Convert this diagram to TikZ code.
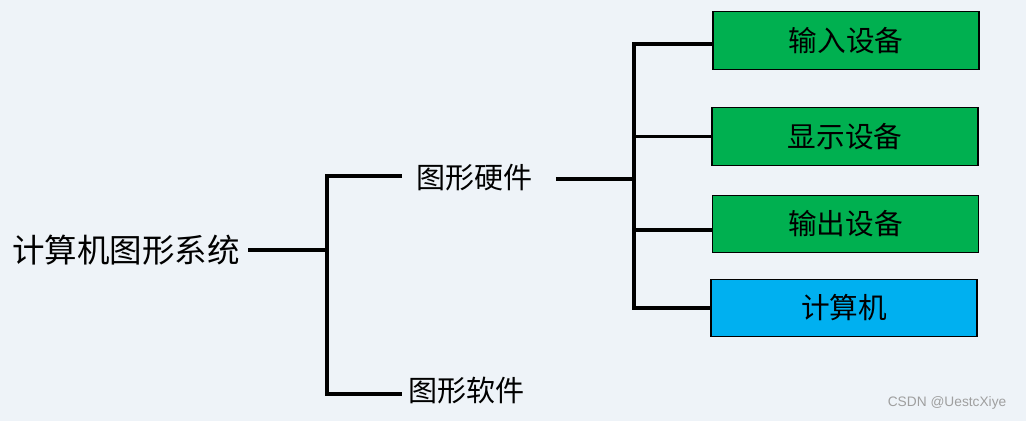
\documentclass[tikz,border=0pt]{standalone}
\usepackage{fontspec}
\setmainfont{Liberation Sans}
\newfontfamily\cjk{Noto Sans CJK SC}
\usetikzlibrary{positioning,calc}
\definecolor{bgtint}{HTML}{EEF3F8}
\definecolor{boxgreen}{HTML}{00B050}
\definecolor{boxblue}{HTML}{00B0F0}

\begin{document}
\begin{tikzpicture}[x=0.75pt, y=-0.75pt,
  tree/.style={line width=2.3pt, line join=miter},
  lbl/.style={inner sep=0pt, font=\cjk\fontsize{21.8pt}{24pt}\selectfont},
  dev/.style={draw=black, line width=0.8pt, minimum width=199.5pt, minimum height=43pt, inner sep=0pt, font=\cjk\fontsize{21.5pt}{24pt}\selectfont}]
\fill[bgtint] (0,0) rectangle (1026,421);
\useasboundingbox (0,0) rectangle (1026,421);
% left part
\node[lbl, anchor=west, font=\cjk\fontsize{24.4pt}{27pt}\selectfont] (root) at (12,250) {计算机图形系统};
\node[lbl, anchor=west] (hw) at (416,178) {图形硬件};
\node[lbl, anchor=west] (sw) at (408,391) {图形软件};
\coordinate (j1) at (327,250);
\coordinate (j2) at (634,179);
% devices
\node[dev, fill=boxgreen] (b1) at (846,40.5) {输入设备};
\node[dev, fill=boxgreen] (b2) at (845,136.5) {显示设备};
\node[dev, fill=boxgreen] (b3) at (845.5,224) {输出设备};
\node[dev, fill=boxblue] (b4) at (844,308) {计算机};
% connectors
\draw[tree] ($(root.east)+(8,0)$) -- (j1);
\draw[tree] ($(hw.west)+(-14,-2)$) -| (j1) |- ($(sw.west)+(-6,3)$);
\draw[tree] ($(hw.east)+(23,1)$) -- (j2);
\draw[tree] ($(b1.west)+(0,3.5)$) -| (j2) |- (b4.west);
\draw[tree] (j2 |- b2.west) -- (b2.west);
\draw[tree] ($(j2 |- b3.west)+(0,6)$) -- ($(b3.west)+(0,6)$);
% watermark
\node[text=gray!75, font=\fontsize{10.3pt}{12pt}\selectfont, anchor=east] (mark) at (1011,403) {CSDN @UestcXiye};
\end{tikzpicture}
\end{document}
